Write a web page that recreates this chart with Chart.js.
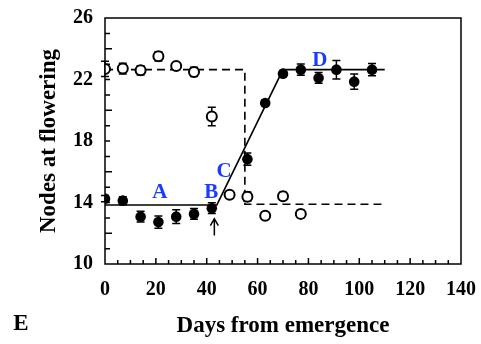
<!DOCTYPE html>
<html>
<head>
<meta charset="utf-8">
<script src="https://cdn.jsdelivr.net/npm/chart.js@4"></script>
<style>
  html, body { margin: 0; padding: 0; background: #fff; }
  #wrap { width: 481px; height: 344px; }
</style>
</head>
<body>
<div id="wrap"><canvas id="c" width="481" height="344"></canvas></div>
<script>
// open circles (dashed fit) and filled circles (solid fit)
var openDays = [0, 7, 14, 21, 28, 35, 42, 49, 56, 63, 70, 77];
var openNodes = [22.69, 22.71, 22.6, 23.51, 22.88, 22.49, 19.6, 14.5, 14.38, 13.14, 14.41, 13.26];
var openErr = [0.5, 0.35, 0.3, 0.3, 0.2, 0.3, 0.6, 0.2, 0.3, 0.2, 0.25, 0.25];

var filledDays = [0, 7, 14, 21, 28, 35, 42, 56, 63, 70, 77, 84, 91, 98, 105];
var filledNodes = [14.25, 14.12, 13.08, 12.73, 13.08, 13.26, 13.63, 16.82, 20.47, 22.38, 22.64, 22.1, 22.64, 21.86, 22.64];
var filledErr = [0.2, 0.25, 0.35, 0.4, 0.45, 0.35, 0.35, 0.4, 0.2, 0.2, 0.37, 0.35, 0.6, 0.5, 0.4];

var fitSolidX = [0, 44, 70, 110];
var fitSolidY = [13.84, 13.84, 22.64, 22.64];
var fitDashX = [0, 55, 55, 110];
var fitDashY = [22.64, 22.64, 13.89, 13.89];

var letters = ['A', 'B', 'C', 'D'];
var letterX = [21.6, 41.8, 46.8, 84.5];
var letterY = [14.63, 14.63, 16.0, 23.2];

var arrowDay = 43;
var arrowFrom = 11.85, arrowTo = 12.95;

var xMin = 0, xMax = 140, xStep = 20, xMinor = 5;
var yMin = 10, yMax = 26, yStep = 4, yMinor = 1;

var SERIF = '"Liberation Serif", "Times New Roman", serif';

function pts(xs, ys) {
  return xs.map(function (x, i) { return { x: x, y: ys[i] }; });
}

// error bars under the markers
var errorBars = {
  id: 'errorBars',
  beforeDatasetsDraw: function (chart) {
    var ctx = chart.ctx, xs = chart.scales.x, ys = chart.scales.y;
    ctx.save();
    ctx.strokeStyle = '#000';
    ctx.lineWidth = 1.5;
    [[openDays, openNodes, openErr], [filledDays, filledNodes, filledErr]].forEach(function (s) {
      s[0].forEach(function (d, i) {
        var px = xs.getPixelForValue(d);
        var y1 = ys.getPixelForValue(s[1][i] - s[2][i]);
        var y2 = ys.getPixelForValue(s[1][i] + s[2][i]);
        ctx.beginPath();
        ctx.moveTo(px, y1); ctx.lineTo(px, y2);
        ctx.moveTo(px - 4, y1); ctx.lineTo(px + 4, y1);
        ctx.moveTo(px - 4, y2); ctx.lineTo(px + 4, y2);
        ctx.stroke();
      });
    });
    ctx.restore();
  }
};

// box frame, inward ticks, letters, arrow, panel label
var frame = {
  id: 'frame',
  afterDraw: function (chart) {
    var ctx = chart.ctx, a = chart.chartArea, xs = chart.scales.x, ys = chart.scales.y;
    ctx.save();
    ctx.strokeStyle = '#000';
    ctx.lineWidth = 1.5;
    ctx.strokeRect(a.left, a.top, a.right - a.left, a.bottom - a.top);
    ctx.beginPath();
    for (var v = xMin + xMinor; v < xMax; v += xMinor) {
      var px = xs.getPixelForValue(v);
      var len = v % xStep === 0 ? 6 : 4;
      ctx.moveTo(px, a.bottom); ctx.lineTo(px, a.bottom - len);
    }
    for (var w = yMin + yMinor; w < yMax; w += yMinor) {
      var py = ys.getPixelForValue(w);
      var l2 = w % yStep === 0 ? 7 : 5;
      ctx.moveTo(a.left, py); ctx.lineTo(a.left + l2, py);
    }
    ctx.stroke();

    // arrow at the break point
    var ax = xs.getPixelForValue(arrowDay);
    var ab = ys.getPixelForValue(arrowFrom), at = ys.getPixelForValue(arrowTo);
    ctx.beginPath();
    ctx.moveTo(ax, ab); ctx.lineTo(ax, at);
    ctx.moveTo(ax - 4, at + 7); ctx.lineTo(ax, at); ctx.lineTo(ax + 4, at + 7);
    ctx.stroke();

    ctx.fillStyle = '#1a3cff';
    ctx.font = 'bold 21px ' + SERIF;
    ctx.textAlign = 'center';
    ctx.textBaseline = 'middle';
    letters.forEach(function (t, i) {
      ctx.fillText(t, xs.getPixelForValue(letterX[i]), ys.getPixelForValue(letterY[i]));
    });

    ctx.fillStyle = '#000';
    ctx.font = 'bold 23px ' + SERIF;
    ctx.fillText('E', 21, 324);
    ctx.restore();
  }
};

new Chart(document.getElementById('c'), {
  type: 'scatter',
  data: {
    datasets: [
      {
        data: pts(openDays, openNodes), order: 1,
        pointRadius: 5, pointBorderWidth: 2, pointBorderColor: '#000', pointBackgroundColor: '#fff',
        showLine: false
      },
      {
        data: pts(filledDays, filledNodes), order: 1,
        pointRadius: 5.3, pointBorderWidth: 0, pointBackgroundColor: '#000',
        showLine: false
      },
      {
        data: pts(fitSolidX, fitSolidY), order: 3, showLine: true,
        borderColor: '#000', borderWidth: 1.6, pointRadius: 0, tension: 0
      },
      {
        data: pts(fitDashX, fitDashY), order: 3, showLine: true,
        borderColor: '#000', borderWidth: 1.6, borderDash: [8, 5], pointRadius: 0, tension: 0
      }
    ]
  },
  options: {
    responsive: false,
    animation: false,
    layout: { padding: { top: 18, right: 20, left: 0, bottom: 0 } },
    plugins: { legend: { display: false }, tooltip: { enabled: false } },
    scales: {
      x: {
        type: 'linear', min: xMin, max: xMax,
        afterFit: function (s) { s.height = 80; s.paddingLeft = 0; s.paddingRight = 0; },
        grid: { display: false, drawTicks: false },
        border: { display: false },
        ticks: { stepSize: xStep, color: '#000', padding: 14, font: { family: SERIF, size: 20, weight: 'bold' } },
        title: { display: true, text: 'Days from emergence', color: '#000', padding: { top: 0, bottom: 4 },
                 font: { family: SERIF, size: 23, weight: 'bold' } }
      },
      y: {
        type: 'linear', min: yMin, max: yMax,
        afterFit: function (s) { s.width = 105; s.paddingTop = 0; s.paddingBottom = 0; },
        grid: { display: false, drawTicks: false },
        border: { display: false },
        ticks: { stepSize: yStep, color: '#000', padding: 12, font: { family: SERIF, size: 20, weight: 'bold' } },
        title: { display: true, text: 'Nodes at flowering', color: '#000', padding: { top: 35, bottom: 0 },
                 font: { family: SERIF, size: 23, weight: 'bold' } }
      }
    }
  },
  plugins: [errorBars, frame]
});
</script>
</body>
</html>
